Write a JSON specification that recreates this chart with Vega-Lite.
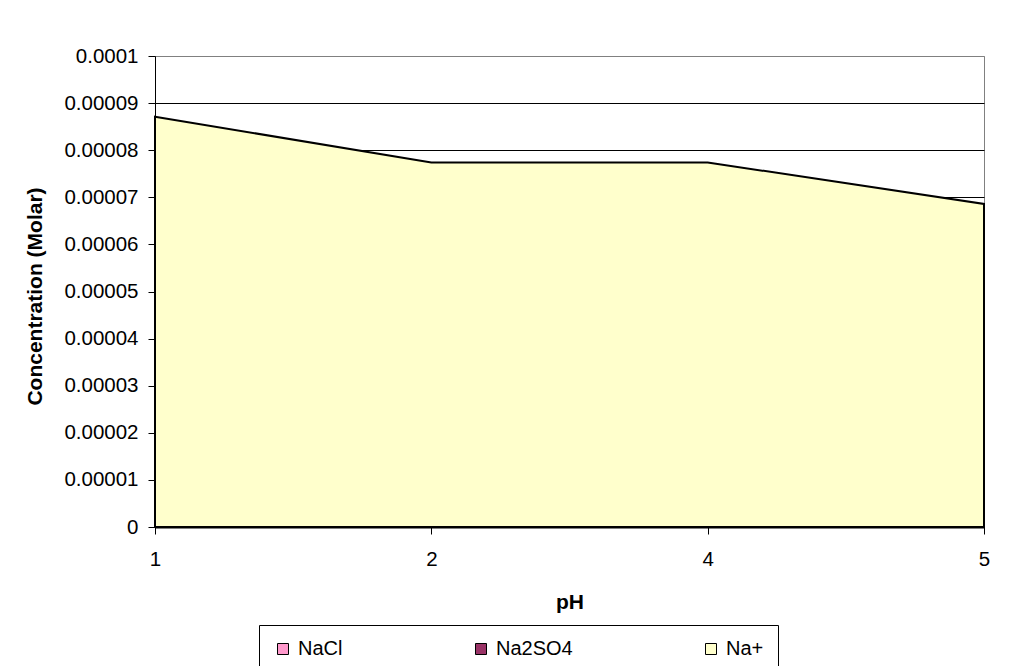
{
  "$schema": "https://vega.github.io/schema/vega-lite/v6.json",
  "width": 829,
  "height": 471,
  "autosize": "none",
  "padding": {"left": 155, "top": 56, "right": 26, "bottom": 139},
  "background": "white",
  "config": {
    "font": "Liberation Sans",
    "view": {"stroke": "#808080", "strokeWidth": 1},
    "axis": {
      "domainColor": "black",
      "tickColor": "black",
      "labelColor": "black",
      "titleColor": "black",
      "labelFont": "Liberation Sans",
      "titleFont": "Liberation Sans",
      "labelFontSize": 20.5,
      "titleFontSize": 21,
      "titleFontWeight": "bold",
      "tickSize": 7
    }
  },
  "data": {
    "values": [
      {"pH": "1", "ion": "Na+", "conc": 0.0000871},
      {"pH": "2", "ion": "Na+", "conc": 0.0000774},
      {"pH": "4", "ion": "Na+", "conc": 0.0000774},
      {"pH": "5", "ion": "Na+", "conc": 0.0000686}
    ]
  },
  "encoding": {
    "x": {
      "field": "pH",
      "type": "ordinal",
      "scale": {"type": "point", "padding": 0},
      "axis": {
        "title": "pH",
        "labelAngle": 0,
        "labelPadding": 15,
        "titlePadding": 22,
        "grid": false,
        "domainWidth": 2
      }
    },
    "y": {
      "field": "conc",
      "type": "quantitative",
      "stack": null,
      "scale": {"domain": [0, 0.0001], "nice": false, "zero": true},
      "axis": {
        "title": "Concentration (Molar)",
        "values": [0, 0.00001, 0.00002, 0.00003, 0.00004, 0.00005, 0.00006, 0.00007, 0.00008, 0.00009, 0.0001],
        "format": ".5~f",
        "labelPadding": 10,
        "grid": true,
        "gridColor": {"condition": {"test": "datum.value >= 0.0001", "value": "#808080"}, "value": "black"},
        "gridWidth": 1,
        "gridOpacity": 1,
        "titleAngle": -90,
        "titleX": -120,
        "titleY": 240,
        "titleAlign": "center",
        "titleBaseline": "middle"
      }
    }
  },
  "layer": [
    {
      "mark": {"type": "area", "opacity": 1, "stroke": "black", "strokeWidth": 2},
      "encoding": {
        "color": {
          "field": "ion",
          "type": "nominal",
          "scale": {
            "domain": ["NaCl", "Na2SO4", "Na+"],
            "range": ["#FF99CC", "#993366", "#FFFFCC"]
          },
          "legend": {
            "title": null,
            "orient": "none",
            "legendX": 104,
            "legendY": 569,
            "direction": "horizontal",
            "columns": 3,
            "columnPadding": 128,
            "padding": 14,
            "strokeColor": "black",
            "fillColor": "white",
            "symbolType": "square",
            "symbolSize": 121,
            "symbolStrokeColor": "black",
            "symbolStrokeWidth": 1,
            "symbolOpacity": 1,
            "labelFont": "Liberation Sans",
            "labelFontSize": 20,
            "labelColor": "black",
            "labelOffset": 5
          }
        }
      }
    },
    {
      "transform": [{"filter": "datum.pH == '5'"}],
      "mark": {"type": "rule", "color": "black", "strokeWidth": 2},
      "encoding": {
        "y2": {"datum": 0}
      }
    }
  ]
}
